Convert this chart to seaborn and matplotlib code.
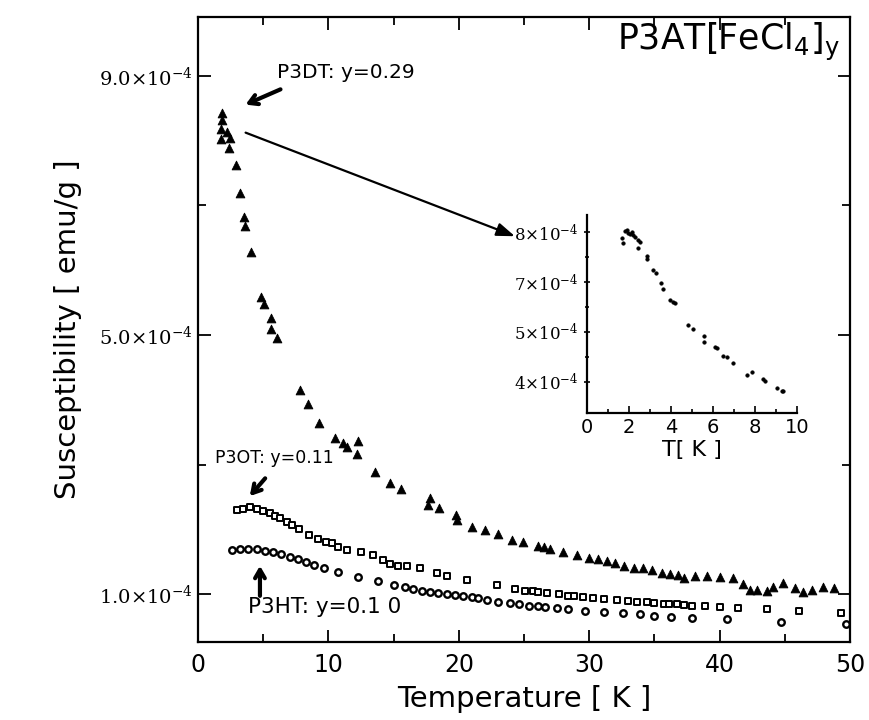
import numpy as np
import pandas as pd
import matplotlib
matplotlib.use("Agg")
import matplotlib.pyplot as plt
import seaborn as sns
from matplotlib.ticker import FixedLocator, NullFormatter

# ---------------- data (susceptibility in units of 1e-4 emu/g) ----------------
p3dt_T = [1.84, 1.84, 1.76, 2.2, 1.76, 2.45, 2.4, 2.9, 3.2, 3.5, 3.6, 4.06, 4.83, 5.06,
          5.6, 5.6, 6.06, 7.82, 8.44, 9.28, 10.5, 11.1, 11.4, 12.3, 12.2, 13.6, 14.7,
          15.6, 17.8, 17.6, 18.5, 19.8, 19.9, 21.0, 22.0, 23.0, 24.1, 24.9, 26.1, 26.5,
          27.0, 28.0, 29.1, 30.0, 30.7, 31.4, 32.0, 32.7, 33.4, 34.1, 34.8, 35.6, 36.2,
          36.8, 37.3, 38.1, 39.0, 40.0, 41.0, 41.8, 42.3, 42.9, 43.6, 44.1, 44.9, 45.8,
          46.4, 47.1, 47.9, 48.8]
p3dt_chi = [8.43, 8.32, 8.18, 8.14, 8.03, 8.04, 7.89, 7.63, 7.19, 6.82, 6.68, 6.28, 5.59,
            5.48, 5.26, 5.09, 4.95, 4.15, 3.93, 3.64, 3.41, 3.33, 3.27, 3.36, 3.16, 2.88,
            2.71, 2.62, 2.48, 2.37, 2.33, 2.22, 2.14, 2.03, 1.99, 1.93, 1.83, 1.80, 1.74,
            1.73, 1.70, 1.65, 1.60, 1.56, 1.54, 1.51, 1.48, 1.43, 1.40, 1.40, 1.37, 1.32,
            1.31, 1.29, 1.25, 1.28, 1.28, 1.26, 1.25, 1.15, 1.06, 1.06, 1.05, 1.11, 1.17,
            1.09, 1.03, 1.06, 1.11, 1.09]

p3ot_T = [3.0, 3.45, 4.0, 4.5, 5.0, 5.5, 5.9, 6.3, 6.8, 7.2, 7.75, 8.5, 9.2, 9.8, 10.3,
          10.7, 11.4, 12.5, 13.4, 14.2, 14.7, 15.3, 16.0, 17.0, 18.3, 19.1, 20.6, 22.9,
          24.3, 25.1, 25.7, 26.1, 26.8, 27.7, 28.4, 28.8, 29.5, 30.3, 31.1, 32.1, 33.0,
          33.7, 34.4, 35.0, 35.7, 36.1, 36.7, 37.3, 37.9, 38.9, 40.0, 41.4, 43.6, 46.1,
          49.3]
p3ot_chi = [2.30, 2.31, 2.34, 2.31, 2.28, 2.25, 2.20, 2.17, 2.11, 2.07, 2.00, 1.91, 1.85,
            1.80, 1.79, 1.73, 1.68, 1.65, 1.60, 1.52, 1.46, 1.43, 1.43, 1.40, 1.32, 1.28,
            1.22, 1.14, 1.08, 1.05, 1.05, 1.03, 1.02, 1.00, 0.97, 0.97, 0.95, 0.94, 0.92,
            0.91, 0.89, 0.88, 0.88, 0.86, 0.85, 0.85, 0.85, 0.83, 0.82, 0.82, 0.80, 0.78,
            0.77, 0.74, 0.71]

p3ht_T = [2.6, 3.2, 3.8, 4.5, 5.1, 5.75, 6.4, 7.05, 7.7, 8.3, 8.9, 9.7, 10.7, 12.3, 13.8,
          15.0, 15.9, 16.5, 17.2, 17.8, 18.4, 19.1, 19.7, 20.3, 21.0, 21.5, 22.2, 23.0,
          23.9, 24.6, 25.4, 26.1, 26.6, 27.5, 28.4, 29.7, 31.1, 32.6, 33.9, 35.0, 36.3,
          37.9, 40.6, 44.7, 49.7]
p3ht_chi = [1.68, 1.69, 1.69, 1.69, 1.66, 1.65, 1.62, 1.57, 1.54, 1.49, 1.45, 1.40, 1.34,
            1.26, 1.20, 1.14, 1.11, 1.08, 1.05, 1.03, 1.02, 1.00, 0.98, 0.97, 0.95, 0.94,
            0.91, 0.88, 0.86, 0.85, 0.81, 0.81, 0.80, 0.78, 0.77, 0.74, 0.72, 0.71, 0.69,
            0.66, 0.64, 0.63, 0.61, 0.57, 0.54]

inset_T = [1.68, 1.73, 1.81, 1.89, 1.97, 2.05, 2.13, 2.21, 2.29, 2.44, 2.52, 2.44, 2.87,
           2.87, 3.16, 3.27, 3.51, 3.60, 3.95, 4.11, 4.19, 4.83, 5.06, 5.59, 5.59, 6.10,
           6.17, 6.49, 6.65, 6.97, 7.60, 7.84, 8.37, 8.48, 9.03, 9.27, 9.35]
inset_chi = [7.89, 7.79, 8.02, 8.05, 7.99, 7.97, 8.00, 7.95, 7.90, 7.84, 7.81, 7.69, 7.52,
             7.47, 7.25, 7.19, 6.97, 6.74, 6.29, 6.22, 6.18, 5.27, 5.11, 4.91, 4.79, 4.70,
             4.68, 4.51, 4.49, 4.37, 4.13, 4.19, 4.05, 4.01, 3.88, 3.81, 3.82]

main_yticks = [9.0, 5.0, 1.0]
main_yticklabels = [r"$9.0{\times}10^{-4}$", r"$5.0{\times}10^{-4}$", r"$1.0{\times}10^{-4}$"]
main_xticks = [0, 10, 20, 30, 40, 50]
inset_yticks = [8, 7, 5, 4]
inset_yticklabels = [r"$8{\times}10^{-4}$", r"$7{\times}10^{-4}$", r"$5{\times}10^{-4}$", r"$4{\times}10^{-4}$"]
inset_xticks = [0, 2, 4, 6, 8, 10]

# ---------------- style ----------------
sns.set_style("ticks")
plt.rcParams["font.family"] = ["DejaVu Sans"]
plt.rcParams["mathtext.fontset"] = "dejavuserif"
plt.rcParams["axes.linewidth"] = 1.6
for key in ["text.color", "axes.labelcolor", "xtick.color", "ytick.color", "axes.edgecolor"]:
    plt.rcParams[key] = "black"

fig = plt.figure(figsize=(8.7, 7.2), dpi=100)
ax = fig.add_axes([0.2276, 0.1083, 0.7494, 0.8681])

df_dt = pd.DataFrame({"T": p3dt_T, "chi": p3dt_chi})
df_ot = pd.DataFrame({"T": p3ot_T, "chi": p3ot_chi})
df_ht = pd.DataFrame({"T": p3ht_T, "chi": p3ht_chi})

sns.scatterplot(data=df_dt, x="T", y="chi", ax=ax, marker="^", s=40,
                color="black", edgecolor="black", linewidth=0.6, legend=False)
sns.scatterplot(data=df_ot, x="T", y="chi", ax=ax, marker="s", s=22,
                facecolor="white", edgecolor="black", linewidth=1.4, legend=False)
sns.scatterplot(data=df_ht, x="T", y="chi", ax=ax, marker="o", s=22,
                facecolor="white", edgecolor="black", linewidth=1.7, legend=False)

ax.set_xlim(0, 50)
ax.set_ylim(0.26, 9.91)
ax.set_xticks(main_xticks)
ax.set_xticklabels([str(v) for v in main_xticks], fontsize=17)
ax.xaxis.set_minor_locator(FixedLocator([5, 15, 25, 35, 45]))
ax.set_yticks(main_yticks)
ax.set_yticklabels(main_yticklabels, fontsize=14)
ax.yaxis.set_minor_locator(FixedLocator([7.0, 3.0]))
ax.tick_params(which="both", direction="in", top=True, right=True, width=1.3)
ax.tick_params(which="major", length=9)
ax.tick_params(which="minor", length=6)
ax.tick_params(axis="x", pad=8)
ax.tick_params(axis="y", pad=4)
ax.set_xlabel("Temperature [ K ]", fontsize=21, labelpad=6)
ax.set_ylabel("Susceptibility [ emu/g ]", fontsize=21, labelpad=12)

# title text inside
ax.text(49.2, 9.52, r"P3AT[FeCl$\mathregular{_4}$]$\mathregular{_y}$", fontsize=25,
        ha="right", va="center", family="DejaVu Sans")

# annotations
ax.text(6.06, 9.06, "P3DT: y=0.29", fontsize=14.5, ha="left", va="center")
ax.annotate("", xy=(3.45, 8.54), xytext=(6.52, 8.81),
            arrowprops=dict(arrowstyle="->,head_length=0.6,head_width=0.35", lw=3, color="black"))
ax.annotate("", xy=(24.5, 6.51), xytext=(3.45, 8.14),
            arrowprops=dict(arrowstyle="-|>,head_length=1.1,head_width=0.4", lw=1.6, color="black"))
ax.text(1.3, 3.10, "P3OT: y=0.11", fontsize=12.5, ha="left", va="center")
ax.annotate("", xy=(3.83, 2.48), xytext=(5.29, 2.82),
            arrowprops=dict(arrowstyle="->,head_length=0.6,head_width=0.35", lw=3, color="black"))
ax.text(3.83, 0.80, "P3HT: y=0.1 0", fontsize=15.5, ha="left", va="center")
ax.annotate("", xy=(4.75, 1.48), xytext=(4.75, 0.93),
            arrowprops=dict(arrowstyle="->,head_length=0.6,head_width=0.35", lw=3, color="black"))

# ---------------- inset ----------------
brk_v = [3, 4, 5, 7, 8, 9]
brk_u = [-1, 0, 1, 2, 3, 4]

def fwd(v):
    return np.interp(v, brk_v, brk_u)

def inv(u):
    return np.interp(u, brk_u, brk_v)

axin = fig.add_axes([0.6747, 0.4264, 0.2414, 0.2750])
df_in = pd.DataFrame({"T": inset_T, "chi": inset_chi})
sns.scatterplot(data=df_in, x="T", y="chi", ax=axin, marker="o", s=7,
                color="black", edgecolor="black", linewidth=0.3, legend=False)
axin.set_yscale("function", functions=(fwd, inv))
axin.set_xlim(0, 10)
axin.set_ylim(3.37, 8.35)
axin.set_xticks(inset_xticks)
axin.set_xticklabels([str(v) for v in inset_xticks], fontsize=14)
axin.xaxis.set_minor_locator(FixedLocator([1, 3, 5, 7, 9]))
axin.set_yticks(inset_yticks)
axin.set_yticklabels(inset_yticklabels, fontsize=12)
axin.yaxis.set_minor_locator(FixedLocator([7.5, 6.0, 4.5]))
axin.yaxis.set_minor_formatter(NullFormatter())
axin.tick_params(which="both", direction="in", width=1.2)
axin.tick_params(axis="y", which="both", direction="inout")
axin.tick_params(which="major", length=5)
axin.tick_params(which="minor", length=3)
axin.set_xlabel("T[ K ]", fontsize=16, labelpad=2)
axin.set_ylabel("")
for side in ["top", "right"]:
    axin.spines[side].set_visible(False)
for side in ["left", "bottom"]:
    axin.spines[side].set_linewidth(1.6)
axin.patch.set_alpha(0)

fig.savefig("out.png", dpi=100)
